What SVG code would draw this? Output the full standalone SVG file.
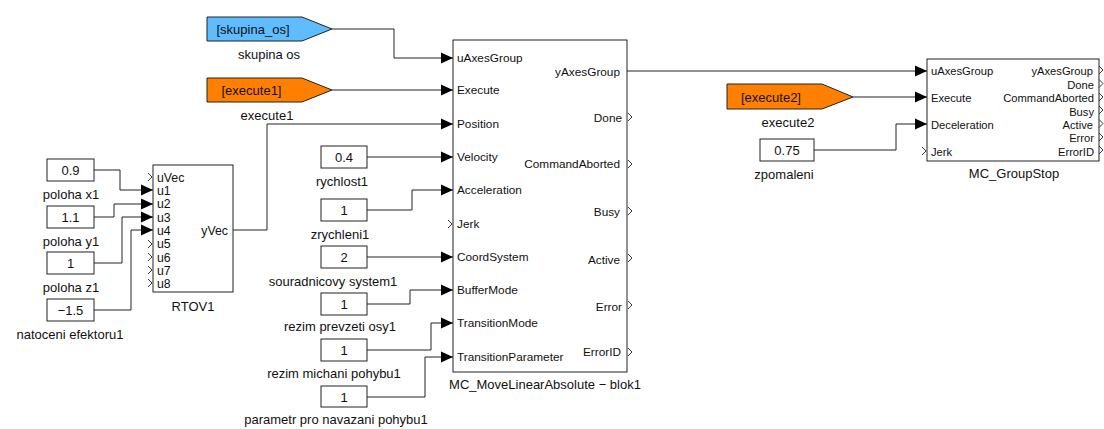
<svg xmlns="http://www.w3.org/2000/svg" xmlns:xlink="http://www.w3.org/1999/xlink" width="1104" height="429" viewBox="0 0 1104 429">
<style>
text{font-family:"Liberation Sans",Arial,sans-serif;fill:#111;}
.lbl{font-size:13px;text-anchor:middle;}
.val{font-size:13px;text-anchor:middle;}
.tag{font-size:13px;text-anchor:middle;}
.pin{font-size:11.8px;}
.pout{font-size:11.8px;text-anchor:end;}
.spin{font-size:11.2px;}
.spout{font-size:11.2px;text-anchor:end;}
.rpin{font-size:12.3px;}
.blk{fill:#fff;stroke:#222;stroke-width:1;}
.cst{fill:#fff;stroke:#222;stroke-width:1;}
.wire{fill:none;stroke:#222;stroke-width:1;}
.chev{fill:none;stroke:#222;stroke-width:0.9;}
</style>
<defs>
<marker id="arr" markerUnits="userSpaceOnUse" viewBox="0 0 12 12" markerWidth="12" markerHeight="12" refX="12" refY="6" orient="auto">
<path d="M0,0.5 L12,6 L0,11.5 z" fill="#000"/>
</marker>
<path id="chev" class="chev" d="M0,-4 L4,0 L0,4"/>
</defs>

<g id="connectors">
<polyline class="wire" points="94,170 120,170 120,190 153,190" marker-end="url(#arr)"/>
<polyline class="wire" points="94,217 114,217 114,204 153,204" marker-end="url(#arr)"/>
<polyline class="wire" points="94,263 122,263 122,217 153,217" marker-end="url(#arr)"/>
<polyline class="wire" points="94,310 131,310 131,230 153,230" marker-end="url(#arr)"/>
<polyline class="wire" points="233,230 267,230 267,124 453,124" marker-end="url(#arr)"/>
<polyline class="wire" points="332,29 394,29 394,58 453,58" marker-end="url(#arr)"/>
<polyline class="wire" points="332,90 453,90" marker-end="url(#arr)"/>
<polyline class="wire" points="367,157 453,157" marker-end="url(#arr)"/>
<polyline class="wire" points="367,210 412,210 412,190 453,190" marker-end="url(#arr)"/>
<polyline class="wire" points="367,257 453,257" marker-end="url(#arr)"/>
<polyline class="wire" points="367,304 410,304 410,290 453,290" marker-end="url(#arr)"/>
<polyline class="wire" points="367,350 431,350 431,323 453,323" marker-end="url(#arr)"/>
<polyline class="wire" points="367,397 425,397 425,357 453,357" marker-end="url(#arr)"/>
<polyline class="wire" points="627,71 927,71" marker-end="url(#arr)"/>
<polyline class="wire" points="853,97 927,97" marker-end="url(#arr)"/>
<polyline class="wire" points="814,150 896,150 896,124 927,124" marker-end="url(#arr)"/>
</g>

<g id="poloha_x1">
<rect class="cst" x="47" y="159" width="47" height="22"/>
<text class="val" x="70.5" y="175">0.9</text>
<text class="lbl" x="71" y="199">poloha x1</text>
</g>
<g id="poloha_y1">
<rect class="cst" x="47" y="206" width="47" height="22"/>
<text class="val" x="70.5" y="222">1.1</text>
<text class="lbl" x="71" y="246">poloha y1</text>
</g>
<g id="poloha_z1">
<rect class="cst" x="47" y="252" width="47" height="22"/>
<text class="val" x="70.5" y="268">1</text>
<text class="lbl" x="71" y="292">poloha z1</text>
</g>
<g id="natoceni_efektoru1">
<rect class="cst" x="47" y="299" width="47" height="22"/>
<text class="val" x="70.5" y="315">−1.5</text>
<text class="lbl" x="70" y="339">natoceni efektoru1</text>
</g>

<g id="RTOV1">
<rect class="blk" x="153" y="165" width="80" height="127"/>
<use xlink:href="#chev" x="148" y="177"/>
<use xlink:href="#chev" x="148" y="244"/>
<use xlink:href="#chev" x="148" y="257"/>
<use xlink:href="#chev" x="148" y="270"/>
<use xlink:href="#chev" x="148" y="283"/>
<text class="rpin" x="157" y="181.5">uVec</text>
<text class="rpin" x="157" y="194.5">u1</text>
<text class="rpin" x="157" y="208">u2</text>
<text class="rpin" x="157" y="221.5">u3</text>
<text class="rpin" x="157" y="234.5">u4</text>
<text class="rpin" x="157" y="248">u5</text>
<text class="rpin" x="157" y="261.5">u6</text>
<text class="rpin" x="157" y="274.5">u7</text>
<text class="rpin" x="157" y="288">u8</text>
<text class="rpin" x="228" y="234.5" text-anchor="end">yVec</text>
<text class="lbl" x="193" y="311">RTOV1</text>
</g>

<g id="skupina_os">
<polygon points="207,17 302,17 332,29 302,41 207,41" fill="#5fbcff" stroke="#222" stroke-width="1"/>
<text class="tag" x="253" y="34">[skupina_os]</text>
<text class="lbl" x="269" y="59">skupina os</text>
</g>
<g id="execute1">
<polygon points="207,78 302,78 332,90 302,102 207,102" fill="#ff8000" stroke="#222" stroke-width="1"/>
<text class="tag" x="251.5" y="95">[execute1]</text>
<text class="lbl" x="267" y="120">execute1</text>
</g>

<g id="rychlost1">
<rect class="cst" x="321" y="146" width="46" height="22"/>
<text class="val" x="344" y="162">0.4</text>
<text class="lbl" x="342" y="186">rychlost1</text>
</g>
<g id="zrychleni1">
<rect class="cst" x="321" y="199" width="46" height="22"/>
<text class="val" x="344" y="215">1</text>
<text class="lbl" x="340" y="239">zrychleni1</text>
</g>
<g id="souradnicovy_system1">
<rect class="cst" x="321" y="246" width="46" height="22"/>
<text class="val" x="344" y="262">2</text>
<text class="lbl" x="333" y="286">souradnicovy system1</text>
</g>
<g id="rezim_prevzeti_osy1">
<rect class="cst" x="321" y="293" width="46" height="22"/>
<text class="val" x="344" y="309">1</text>
<text class="lbl" x="340" y="331">rezim prevzeti osy1</text>
</g>
<g id="rezim_michani_pohybu1">
<rect class="cst" x="321" y="339" width="46" height="22"/>
<text class="val" x="344" y="355">1</text>
<text class="lbl" x="334" y="378">rezim michani pohybu1</text>
</g>
<g id="parametr_pro_navazani_pohybu1">
<rect class="cst" x="321" y="386" width="46" height="21"/>
<text class="val" x="344" y="401.5">1</text>
<text class="lbl" x="336" y="424">parametr pro navazani pohybu1</text>
</g>

<g id="MC_MoveLinearAbsolute_blok1">
<rect class="blk" x="453" y="40" width="174" height="332"/>
<text class="pin" x="457" y="62">uAxesGroup</text>
<text class="pin" x="457" y="94">Execute</text>
<text class="pin" x="457" y="128">Position</text>
<text class="pin" x="457" y="161">Velocity</text>
<text class="pin" x="457" y="194">Acceleration</text>
<use xlink:href="#chev" x="448" y="224"/>
<text class="pin" x="457" y="228">Jerk</text>
<text class="pin" x="457" y="261">CoordSystem</text>
<text class="pin" x="457" y="294">BufferMode</text>
<text class="pin" x="457" y="327">TransitionMode</text>
<text class="pin" x="457" y="361">TransitionParameter</text>
<text class="pout" x="620" y="76">yAxesGroup</text>
<text class="pout" x="622" y="122">Done</text>
<text class="pout" x="620" y="168">CommandAborted</text>
<text class="pout" x="620" y="216">Busy</text>
<text class="pout" x="620" y="264">Active</text>
<text class="pout" x="622" y="311">Error</text>
<text class="pout" x="621" y="356">ErrorID</text>
<use xlink:href="#chev" x="628" y="117"/>
<use xlink:href="#chev" x="628" y="164"/>
<use xlink:href="#chev" x="628" y="211"/>
<use xlink:href="#chev" x="628" y="258"/>
<use xlink:href="#chev" x="628" y="305"/>
<use xlink:href="#chev" x="628" y="352"/>
<text class="lbl" x="545" y="389">MC_MoveLinearAbsolute − blok1</text>
</g>

<g id="execute2">
<polygon points="727,84 822,84 853,97 822,109 727,109" fill="#ff8000" stroke="#222" stroke-width="1"/>
<text class="tag" x="771" y="102">[execute2]</text>
<text class="lbl" x="788" y="127">execute2</text>
</g>
<g id="zpomaleni">
<rect class="cst" x="760" y="139" width="54" height="22"/>
<text class="val" x="787" y="155">0.75</text>
<text class="lbl" x="784" y="179">zpomaleni</text>
</g>

<g id="MC_GroupStop">
<rect class="blk" x="927" y="59" width="172" height="102"/>
<text class="spin" x="931" y="75">uAxesGroup</text>
<text class="spin" x="931" y="101.5">Execute</text>
<text class="spin" x="931" y="129">Deceleration</text>
<use xlink:href="#chev" x="922" y="151"/>
<text class="spin" x="931" y="155.5">Jerk</text>
<text class="spout" x="1093" y="75">yAxesGroup</text>
<text class="spout" x="1094" y="88.5">Done</text>
<text class="spout" x="1094" y="102">CommandAborted</text>
<text class="spout" x="1094" y="115.5">Busy</text>
<text class="spout" x="1093" y="129">Active</text>
<text class="spout" x="1094" y="142">Error</text>
<text class="spout" x="1094" y="155.5">ErrorID</text>
<use xlink:href="#chev" x="1099" y="70"/>
<use xlink:href="#chev" x="1099" y="83.5"/>
<use xlink:href="#chev" x="1099" y="97"/>
<use xlink:href="#chev" x="1099" y="110"/>
<use xlink:href="#chev" x="1099" y="123.5"/>
<use xlink:href="#chev" x="1099" y="137"/>
<use xlink:href="#chev" x="1099" y="150"/>
<text class="lbl" x="1014" y="178">MC_GroupStop</text>
</g>
</svg>
